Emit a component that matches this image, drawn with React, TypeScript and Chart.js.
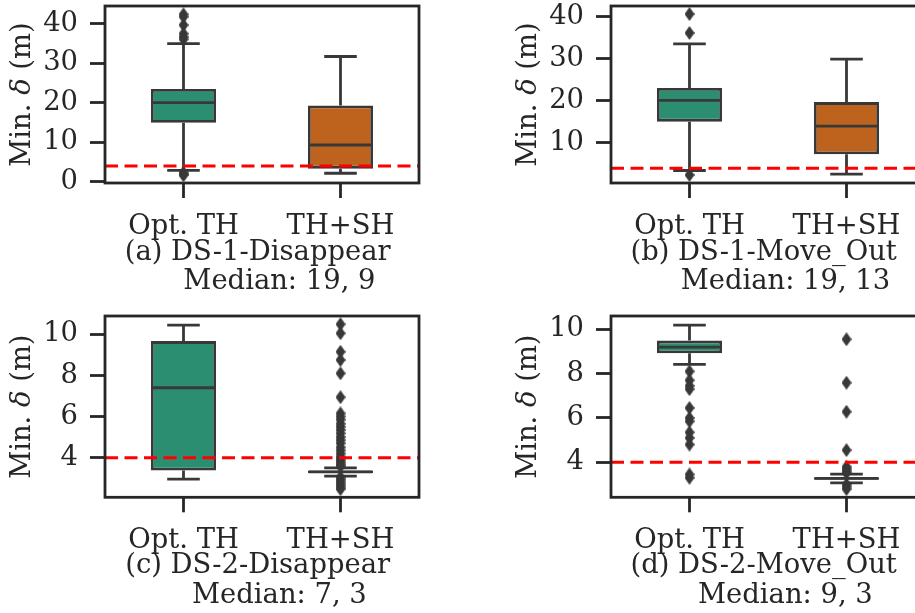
import React, { useEffect, useRef } from 'react';
import { Chart, registerables } from 'chart.js';
Chart.register(...registerables);

// ---------- data ----------
const categories = ['Opt. TH', 'TH+SH'];
const boxColors = ['#2b8e70', '#be631d'];
const threshold = 4;

// (a) DS-1-Disappear
const aQ1 = [14.9, 3.33];
const aMed = [20.0, 9.3];
const aQ3 = [23.45, 19.3];
const aWhisLo = [2.9, 2.16];
const aWhisHi = [34.9, 31.65];
const aOutOpt = [42.3, 41.7, 39.6, 37.4, 36.6, 36.0, 2.3, 1.9, 1.7];
const aOutSH: number[] = [];

// (b) DS-1-Move_Out
const bQ1 = [15.06, 7.3];
const bMed = [20.1, 14.0];
const bQ3 = [23.05, 19.7];
const bWhisLo = [3.47, 2.6];
const bWhisHi = [33.5, 29.9];
const bOutOpt = [40.6, 36.1, 2.4];
const bOutSH: number[] = [];

// (c) DS-2-Disappear
const cQ1 = [3.37, 3.25];
const cMed = [7.4, 3.31];
const cQ3 = [9.67, 3.37];
const cWhisLo = [2.95, 3.1];
const cWhisHi = [10.45, 3.5];
const cOutOpt: number[] = [];
const cOutSH = [10.49, 10.05, 9.15, 8.75, 8.1, 6.94, 6.15, 6.0, 5.85, 5.65, 5.5, 5.35, 5.18, 5.0, 4.85, 4.7, 4.5, 4.35, 4.2, 4.05, 3.95, 3.85, 3.75, 3.65, 3.58, 3.05, 2.95, 2.85, 2.75, 2.65, 2.55, 2.47];

// (d) DS-2-Move_Out
const dQ1 = [8.92, 3.21];
const dMed = [9.2, 3.27];
const dQ3 = [9.49, 3.33];
const dWhisLo = [8.42, 3.07];
const dWhisHi = [10.19, 3.47];
const dOutOpt = [8.1, 7.7, 7.45, 7.3, 6.45, 6.0, 5.85, 5.35, 5.1, 4.8, 3.45, 3.3];
const dOutSH = [9.55, 7.59, 6.28, 4.55, 3.8, 3.7, 3.6, 3.52, 3.0, 2.9, 2.79];

const yTitleParts = ['Min. ', 'δ', ' (m)'];
const panelTitles = ['(a) DS-1-Disappear ', '(b) DS-1-Move_Out ', '(c) DS-2-Disappear ', '(d) DS-2-Move_Out '];
const medianLabels = ['    Median: 19, 9', '    Median: 19, 13', '    Median: 7, 3', '    Median: 9, 3'];
const yMins = [-0.3, 0.5, 2.07, 2.42];
const yMaxs = [44.4, 42.5, 10.89, 10.6];
const ySteps = [10, 10, 2, 2];

// ---------- styling / layout ----------
const FONT = 'DejaVu Serif';
const FS = 27.4;
const LH = 29.5;
const INK = '#262626';
const LINE = '#383838';
const LW = 2.8;

type Layout = { left: number; top: number; w: number; h: number; aL: number; aT: number; aR: number; aB: number; tMid: number };
const layouts: Layout[] = [
  { left: 0, top: 0, w: 440, h: 305, aL: 105, aT: 3, aR: 419, aB: 183, tMid: 282 },
  { left: 480, top: 0, w: 460, h: 305, aL: 611, aT: 3, aR: 925, aB: 183, tMid: 282 },
  { left: 0, top: 300, w: 440, h: 313, aL: 105, aT: 316, aR: 419, aB: 497.3, tMid: 595.5 },
  { left: 480, top: 300, w: 460, h: 313, aL: 611, aT: 316, aR: 925, aB: 497.3, tMid: 595.5 },
];

type PanelData = {
  q1: number[]; med: number[]; q3: number[]; lo: number[]; hi: number[]; out: number[][];
  title: string; median: string; yMin: number; yMax: number; step: number;
};
const panels: PanelData[] = [
  { q1: aQ1, med: aMed, q3: aQ3, lo: aWhisLo, hi: aWhisHi, out: [aOutOpt, aOutSH], title: panelTitles[0], median: medianLabels[0], yMin: yMins[0], yMax: yMaxs[0], step: ySteps[0] },
  { q1: bQ1, med: bMed, q3: bQ3, lo: bWhisLo, hi: bWhisHi, out: [bOutOpt, bOutSH], title: panelTitles[1], median: medianLabels[1], yMin: yMins[1], yMax: yMaxs[1], step: ySteps[1] },
  { q1: cQ1, med: cMed, q3: cQ3, lo: cWhisLo, hi: cWhisHi, out: [cOutOpt, cOutSH], title: panelTitles[2], median: medianLabels[2], yMin: yMins[2], yMax: yMaxs[2], step: ySteps[2] },
  { q1: dQ1, med: dMed, q3: dQ3, lo: dWhisLo, hi: dWhisHi, out: [dOutOpt, dOutSH], title: panelTitles[3], median: medianLabels[3], yMin: yMins[3], yMax: yMaxs[3], step: ySteps[3] },
];

function makeDiamond(w: number, h: number, color: string) {
  const c = document.createElement('canvas');
  c.width = w;
  c.height = h;
  const g = c.getContext('2d')!;
  g.fillStyle = color;
  g.beginPath();
  g.moveTo(w / 2, 0);
  g.lineTo(w, h / 2);
  g.lineTo(w / 2, h);
  g.lineTo(0, h / 2);
  g.closePath();
  g.fill();
  return c;
}

function Panel({ p, L }: { p: PanelData; L: Layout }) {
  const ref = useRef<HTMLCanvasElement>(null);
  useEffect(() => {
    const diamond = makeDiamond(10, 14, LINE);
    const aL = L.aL - L.left;
    const aT = L.aT - L.top;
    const aR = L.aR - L.left;
    const aB = L.aB - L.top;
    const tMid = L.tMid - L.top;
    const padBottom = L.h - tMid - LH / 2;
    const xHeight = L.h - padBottom - aB;

    const outData: { x: string; y: number }[] = [];
    p.out.forEach((arr, i) => arr.forEach((v) => outData.push({ x: categories[i], y: v })));

    const extras = {
      id: 'boxExtras',
      beforeDatasetsDraw(chart: any) {
        const ctx = chart.ctx;
        const xs = chart.scales.x;
        const ys = chart.scales.y;
        const meta = chart.getDatasetMeta(0);
        ctx.save();
        ctx.strokeStyle = LINE;
        ctx.lineWidth = LW;
        ctx.lineCap = 'butt';
        categories.forEach((_, i) => {
          const cx = xs.getPixelForValue(i);
          const bw = meta.data[i].width;
          const cw = bw / 2;
          const yq1 = ys.getPixelForValue(p.q1[i]);
          const yq3 = ys.getPixelForValue(p.q3[i]);
          const ylo = ys.getPixelForValue(p.lo[i]);
          const yhi = ys.getPixelForValue(p.hi[i]);
          ctx.beginPath();
          ctx.moveTo(cx, yq1);
          ctx.lineTo(cx, ylo);
          ctx.moveTo(cx, yq3);
          ctx.lineTo(cx, yhi);
          ctx.moveTo(cx - cw / 2, ylo);
          ctx.lineTo(cx + cw / 2, ylo);
          ctx.moveTo(cx - cw / 2, yhi);
          ctx.lineTo(cx + cw / 2, yhi);
          ctx.stroke();
        });
        ctx.restore();
      },
      afterDatasetsDraw(chart: any) {
        const ctx = chart.ctx;
        const xs = chart.scales.x;
        const ys = chart.scales.y;
        const area = chart.chartArea;
        const meta = chart.getDatasetMeta(0);
        ctx.save();
        // medians
        ctx.strokeStyle = LINE;
        ctx.lineWidth = LW;
        categories.forEach((_, i) => {
          const cx = xs.getPixelForValue(i);
          const bw = meta.data[i].width;
          const ym = ys.getPixelForValue(p.med[i]);
          ctx.beginPath();
          ctx.moveTo(cx - bw / 2 + 1, ym);
          ctx.lineTo(cx + bw / 2 - 1, ym);
          ctx.stroke();
        });
        // threshold line
        const yt = ys.getPixelForValue(threshold);
        ctx.strokeStyle = '#ff0000';
        ctx.lineWidth = 3;
        ctx.setLineDash([13, 6.5]);
        ctx.beginPath();
        ctx.moveTo(area.left, yt);
        ctx.lineTo(area.right, yt);
        ctx.stroke();
        ctx.setLineDash([]);
        // frame
        ctx.strokeStyle = INK;
        ctx.lineWidth = LW;
        ctx.strokeRect(area.left, area.top, area.right - area.left, area.bottom - area.top);
        // y title
        ctx.fillStyle = INK;
        ctx.textBaseline = 'middle';
        ctx.textAlign = 'left';
        const fonts = [`${FS}px "${FONT}"`, `italic ${FS}px "${FONT}"`, `${FS}px "${FONT}"`];
        const widths = yTitleParts.map((t, k) => {
          ctx.font = fonts[k];
          return ctx.measureText(t).width;
        });
        const total = widths.reduce((s, w) => s + w, 0);
        ctx.translate(area.left - 82.5, (area.top + area.bottom) / 2);
        ctx.rotate(-Math.PI / 2);
        let x = -total / 2;
        yTitleParts.forEach((t, k) => {
          ctx.font = fonts[k];
          ctx.fillText(t, x, 0);
          x += widths[k];
        });
        ctx.restore();
      },
    };

    const chart = new Chart(ref.current!, {
      type: 'bar',
      data: {
        labels: categories,
        datasets: [
          {
            type: 'bar',
            data: categories.map((_, i) => [p.q1[i], p.q3[i]]) as any,
            backgroundColor: boxColors,
            borderColor: LINE,
            borderWidth: LW,
            borderSkipped: false,
            barPercentage: 0.415,
            categoryPercentage: 1,
          } as any,
          {
            type: 'scatter',
            data: outData as any,
            pointStyle: diamond as any,
            pointRadius: 5,
            showLine: false,
          } as any,
        ],
      },
      options: {
        responsive: false,
        animation: false,
        events: [],
        layout: { padding: { left: 0, top: aT, right: L.w - aR, bottom: padBottom } },
        plugins: { legend: { display: false }, tooltip: { enabled: false } },
        scales: {
          x: {
            type: 'category',
            offset: true,
            grid: { offset: false, drawOnChartArea: false, drawTicks: true, tickLength: 15, tickWidth: LW, tickColor: INK },
            border: { display: false },
            ticks: { font: { family: FONT, size: FS }, color: INK, padding: 12, maxRotation: 0, autoSkip: false },
            title: {
              display: true,
              text: [p.title, p.median],
              font: { family: FONT, size: FS, lineHeight: LH / FS },
              color: INK,
              padding: { top: 0, bottom: 0 },
            },
            afterFit: (s: any) => {
              s.height = xHeight;
              s.paddingLeft = 0;
              s.paddingRight = 0;
            },
          } as any,
          y: {
            type: 'linear',
            min: p.yMin,
            max: p.yMax,
            grid: { drawOnChartArea: false, drawTicks: true, tickLength: 15, tickWidth: LW, tickColor: INK },
            border: { display: false },
            ticks: { stepSize: p.step, includeBounds: false, font: { family: FONT, size: FS }, color: INK, padding: 12 },
            afterFit: (s: any) => {
              s.width = aL;
              s.paddingTop = 0;
              s.paddingBottom = 0;
            },
          } as any,
        },
      },
      plugins: [extras],
    } as any);
    return () => chart.destroy();
  }, []);
  return (
    <div style={{ position: 'absolute', left: L.left, top: L.top, width: L.w, height: L.h }}>
      <canvas ref={ref} width={L.w} height={L.h} style={{ width: L.w, height: L.h, display: 'block' }} />
    </div>
  );
}

export default function App() {
  return (
    <div style={{ position: 'absolute', left: 0, top: 0, width: 915, height: 613, overflow: 'hidden', background: '#ffffff' }}>
      {panels.map((p, i) => (
        <Panel key={i} p={p} L={layouts[i]} />
      ))}
    </div>
  );
}
